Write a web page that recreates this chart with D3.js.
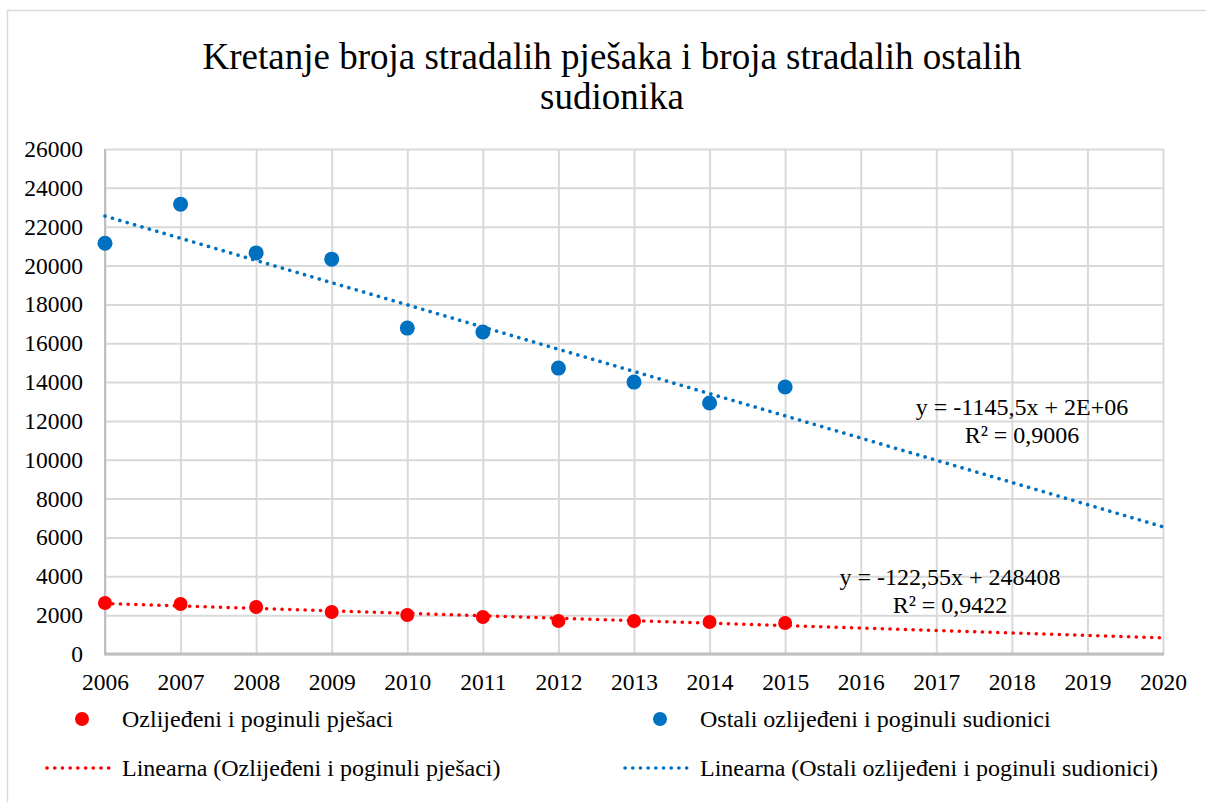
<!DOCTYPE html>
<html>
<head>
<meta charset="utf-8">
<script src="https://cdn.jsdelivr.net/npm/d3@7"></script>
<style>
  body { margin: 0; background: #fff; }
</style>
</head>
<body>
<div id="chart"></div>
<script>
// podaci ocitani s grafikona
const years = [2006, 2007, 2008, 2009, 2010, 2011, 2012, 2013, 2014, 2015]
const pjesaci = [2625, 2574, 2420, 2162, 2008, 1905, 1699, 1699, 1647, 1596]
const ostali = [21150, 23160, 20650, 20330, 16780, 16580, 14720, 14000, 12920, 13750]
const xTicks = d3.range(2006, 2021)
const yTicks = d3.range(0, 26001, 2000)
const titleLines = ['Kretanje broja stradalih pješaka i broja stradalih ostalih', 'sudionika']
const seriesNames = ['Ozlijeđeni i poginuli pješaci', 'Ostali ozlijeđeni i poginuli sudionici']
const eqPjesaci = ['y = -122,55x + 248408', 'R² = 0,9422']
const eqOstali = ['y = -1145,5x + 2E+06', 'R² = 0,9006']

const width = 1206
const height = 802
const margin = { top: 149, right: 43, bottom: 148, left: 105 }
const red = '#ff0000'
const blue = '#0070c0'
const font = "'Liberation Serif', 'Times New Roman', serif"

const svg = d3.select('#chart')
  .append('svg')
    .attr('width', width)
    .attr('height', height)
    .attr('font-family', font)

// okvir
svg.append('rect')
  .attr('x', 7.5)
  .attr('y', 10.5)
  .attr('width', width + 20)
  .attr('height', height + 20)
  .attr('fill', '#fff')
  .attr('stroke', '#d9d9d9')
  .attr('stroke-width', 1.5)

const x = d3.scaleLinear()
  .domain([2006, 2020])
  .range([margin.left, width - margin.right])

const y = d3.scaleLinear()
  .domain([0, 26000])
  .range([height - margin.bottom, margin.top])

// mreza
svg.append('g')
  .attr('transform', `translate(0,${height - margin.bottom})`)
  .call(d3.axisBottom(x).tickValues(xTicks).tickSize(-(height - margin.top - margin.bottom)).tickFormat(''))
  .call(g => g.select('.domain').remove())
  .call(g => g.selectAll('line').attr('stroke', '#d9d9d9').attr('stroke-width', 2))

svg.append('g')
  .attr('transform', `translate(${margin.left},0)`)
  .call(d3.axisLeft(y).tickValues(yTicks).tickSize(-(width - margin.left - margin.right)).tickFormat(''))
  .call(g => g.select('.domain').remove())
  .call(g => g.selectAll('line').attr('stroke', '#d9d9d9').attr('stroke-width', 2))

// osi
svg.append('line')
  .attr('x1', margin.left).attr('x2', margin.left)
  .attr('y1', margin.top).attr('y2', height - margin.bottom)
  .attr('stroke', '#bfbfbf').attr('stroke-width', 2)

svg.append('line')
  .attr('x1', margin.left - 1).attr('x2', width - margin.right + 1)
  .attr('y1', height - margin.bottom).attr('y2', height - margin.bottom)
  .attr('stroke', '#bfbfbf').attr('stroke-width', 3)

// oznake
svg.append('g')
  .attr('transform', `translate(0,${height - margin.bottom})`)
  .call(d3.axisBottom(x).tickValues(xTicks).tickSize(0).tickPadding(0).tickFormat(d3.format('d')))
  .call(g => g.attr('font-family', font).attr('font-size', 23.5))
  .call(g => g.select('.domain').remove())
  .call(g => g.selectAll('text')
    .attr('y', 36)
    .attr('dy', 0)
    .attr('font-family', font)
    .attr('fill', '#000'))

svg.append('g')
  .attr('transform', `translate(${margin.left},0)`)
  .call(d3.axisLeft(y).tickValues(yTicks).tickSize(0).tickFormat(d3.format('d')))
  .call(g => g.attr('font-family', font).attr('font-size', 23.5))
  .call(g => g.select('.domain').remove())
  .call(g => g.selectAll('text')
    .attr('x', -22)
    .attr('font-family', font)
    .attr('fill', '#000'))

// naslov
svg.append('text')
  .attr('text-anchor', 'middle')
  .attr('font-size', 37)
  .selectAll('tspan')
  .data(titleLines)
  .join('tspan')
    .attr('x', 612)
    .attr('y', (d, i) => 69 + i * 40)
    .text(d => d)

// linearni trend
function linearFit (xs, ys) {
  const mx = d3.mean(xs)
  const my = d3.mean(ys)
  const sxy = d3.sum(xs, (v, i) => (v - mx) * (ys[i] - my))
  const sxx = d3.sum(xs, v => (v - mx) * (v - mx))
  const slope = sxy / sxx
  return t => my + slope * (t - mx)
}

const line = d3.line()
  .x(d => x(d[0]))
  .y(d => y(d[1]))

const series = [
  { values: pjesaci, color: red, r: 7 },
  { values: ostali, color: blue, r: 7.5 }
]

series.forEach(s => {
  svg.append('g')
    .selectAll('circle')
    .data(s.values)
    .join('circle')
      .attr('cx', (d, i) => x(years[i]))
      .attr('cy', d => y(d))
      .attr('r', s.r)
      .attr('fill', s.color)
})

series.forEach(s => {
  const fit = linearFit(years, s.values)
  svg.append('path')
    .attr('d', line([[2006, fit(2006)], [2020, fit(2020)]]))
    .attr('fill', 'none')
    .attr('stroke', s.color)
    .attr('stroke-width', 3.6)
    .attr('stroke-linecap', 'round')
    .attr('stroke-dasharray', '0.1 7.6')
})

// jednadzbe
const equations = [
  { lines: eqPjesaci, cx: 950, y0: 585 },
  { lines: eqOstali, cx: 1022, y0: 415 }
]

equations.forEach(e => {
  svg.append('text')
    .attr('text-anchor', 'middle')
    .attr('font-size', 24)
    .selectAll('tspan')
    .data(e.lines)
    .join('tspan')
      .attr('x', e.cx)
      .attr('y', (d, i) => e.y0 + i * 28)
      .text(d => d)
})

// legenda
const legend = [
  { type: 'dot', color: red, label: seriesNames[0], mx: 82, tx: 122, ty: 719 },
  { type: 'dot', color: blue, label: seriesNames[1], mx: 660, tx: 700, ty: 719 },
  { type: 'line', color: red, label: 'Linearna (' + seriesNames[0] + ')', mx: 47, tx: 122, ty: 768 },
  { type: 'line', color: blue, label: 'Linearna (' + seriesNames[1] + ')', mx: 625, tx: 700, ty: 768 }
]

const lg = svg.append('g')

legend.forEach(l => {
  if (l.type === 'dot') {
    lg.append('circle')
      .attr('cx', l.mx)
      .attr('cy', l.ty)
      .attr('r', 7)
      .attr('fill', l.color)
  } else {
    lg.append('line')
      .attr('x1', l.mx).attr('x2', l.mx + 66)
      .attr('y1', l.ty).attr('y2', l.ty)
      .attr('stroke', l.color)
      .attr('stroke-width', 3.6)
      .attr('stroke-linecap', 'round')
      .attr('stroke-dasharray', '0.1 7.6')
  }
  lg.append('text')
    .attr('x', l.tx)
    .attr('y', l.ty)
    .attr('dy', '0.35em')
    .attr('font-size', 24)
    .text(l.label)
})
</script>
</body>
</html>
